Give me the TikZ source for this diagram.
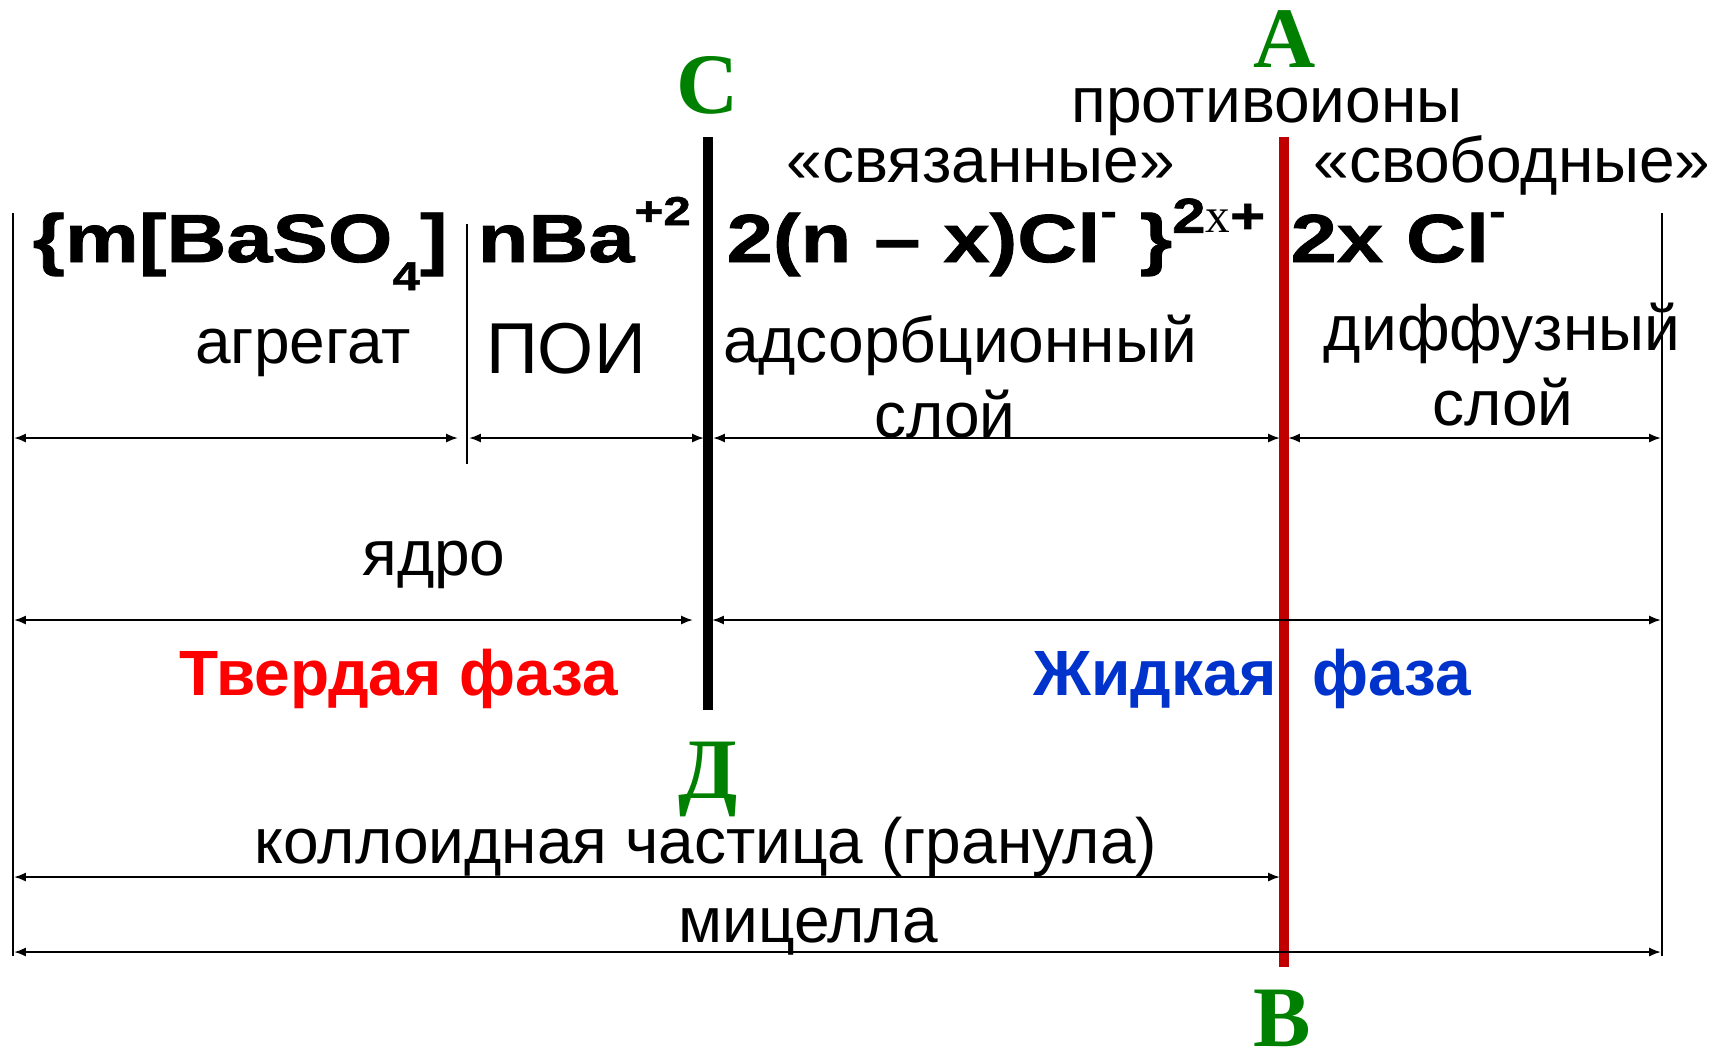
\documentclass[tikz,border=0pt]{standalone}
\usepackage{fontspec}
\setmainfont{Liberation Sans}
\newfontfamily\letterfont{Liberation Serif}
\newfontfamily\formulafont[FakeStretch=1.22, FakeBold=1.2]{Liberation Sans}
\usetikzlibrary{arrows.meta}

\definecolor{letgreen}{RGB}{0,128,0}
\definecolor{slipred}{RGB}{192,0,0}
\definecolor{solidred}{RGB}{255,0,0}
\definecolor{liquidblue}{RGB}{0,51,204}

\newcommand{\lowidx}[1]{\raisebox{-8pt}{\fontsize{11.5}{12}\selectfont #1}}
\newcommand{\upidx}[1]{\raisebox{10.5pt}{\fontsize{11.5}{12}\selectfont #1}}
\newcommand{\granulecharge}{\raisebox{8.3pt}{\fontsize{14}{14}\selectfont 2{\letterfont\mdseries x}+}}

\begin{document}
\begin{tikzpicture}[x=0.01cm, y=-0.01cm, inner sep=0pt,
  caption/.style={anchor=base, font=\fontsize{18.2}{22}\selectfont},
  formula/.style={anchor=base west, font=\formulafont\bfseries\fontsize{19.35}{23}\selectfont},
  phase/.style={anchor=base, font=\bfseries\fontsize{18.2}{22}\selectfont},
  point/.style={anchor=base, text=letgreen, font=\letterfont\bfseries\fontsize{24.5}{28}\selectfont},
  edge/.style={line width=0.2mm},
  dim/.style={line width=0.2mm, {Latex[length=3.4pt,width=2.6pt]}-{Latex[length=3.4pt,width=2.6pt]}},
  slip/.style={line width=1mm}]
\useasboundingbox (0,0) rectangle (1713,1053);

\node[point] (A) at (1285,67) {A};
\node[point] (C) at (708,113) {C};
\node[point] (D) at (708,798) {Д};
\node[point] (B) at (1282,1046) {B};

\node[caption] (counter) at (1267,122) {противоионы};
\node[caption] (bound) at (981,182) {«связанные»};
\node[caption] (free) at (1512,182) {«свободные»};

\node[formula] (fagg) at (32,262) {\{m[BaSO\lowidx{4}]};
\node[formula] (fpoi) at (477,262) {nBa\upidx{+2}};
\node[formula] (fads) at (726,262) {2(n – x)Cl\upidx{-} \}\granulecharge};
\node[formula] (fdif) at (1290,262) {2x Cl\upidx{-}};

\node[caption] (agg) at (303,363) {агрегат};
\node[caption, font=\fontsize{20.5}{24}\selectfont] (poi) at (566,373) {ПОИ};
\node[caption] (ads1) at (960,362) {адсорбционный};
\node[caption] (ads2) at (945,437) {слой};
\node[caption] (dif1) at (1502,350) {диффузный};
\node[caption] (dif2) at (1503,425) {слой};
\node[caption] (core) at (434,575) {ядро};
\node[phase, text=solidred] (solid) at (399,695) {Твердая фаза};
\node[phase, text=liquidblue] (liq1) at (1155,695) {Жидкая};
\node[phase, text=liquidblue] (liq2) at (1392,695) {фаза};
\node[caption] (granule) at (706,863) {коллоидная частица (гранула)};
\node[caption] (micelle) at (808,942) {мицелла};

\coordinate (lt) at (13,213);  \coordinate (lb) at (13,956);
\coordinate (rt) at (1662,213); \coordinate (rb) at (1662,956);
\coordinate (dt) at (467,224); \coordinate (db) at (467,464);
\coordinate (ct) at (708,137); \coordinate (cb) at (708,710);
\coordinate (at) at (1284,137); \coordinate (ab) at (1284,967);

\draw[edge] (lt) -- (lb);
\draw[edge] (rt) -- (rb);
\draw[edge] (dt) -- (db);
\draw[slip] (ct) -- (cb);
\draw[slip, slipred] (at) -- (ab);

\coordinate (r1a) at (14,438);  \coordinate (r1b) at (458,438);
\coordinate (r1c) at (469,438); \coordinate (r1d) at (704,438);
\coordinate (r1e) at (713,438); \coordinate (r1f) at (1280,438);
\coordinate (r1g) at (1288,438); \coordinate (r1h) at (1661,438);
\coordinate (r2a) at (14,620);  \coordinate (r2b) at (693,620);
\coordinate (r2c) at (712,620); \coordinate (r2d) at (1661,620);
\coordinate (r3a) at (14,877);  \coordinate (r3b) at (1280,877);
\coordinate (r4a) at (14,952);  \coordinate (r4b) at (1661,952);

\draw[dim] (r1a) -- (r1b);
\draw[dim] (r1c) -- (r1d);
\draw[dim] (r1e) -- (r1f);
\draw[dim] (r1g) -- (r1h);
\draw[dim] (r2a) -- (r2b);
\draw[dim] (r2c) -- (r2d);
\draw[dim] (r3a) -- (r3b);
\draw[dim] (r4a) -- (r4b);
\end{tikzpicture}
\end{document}
